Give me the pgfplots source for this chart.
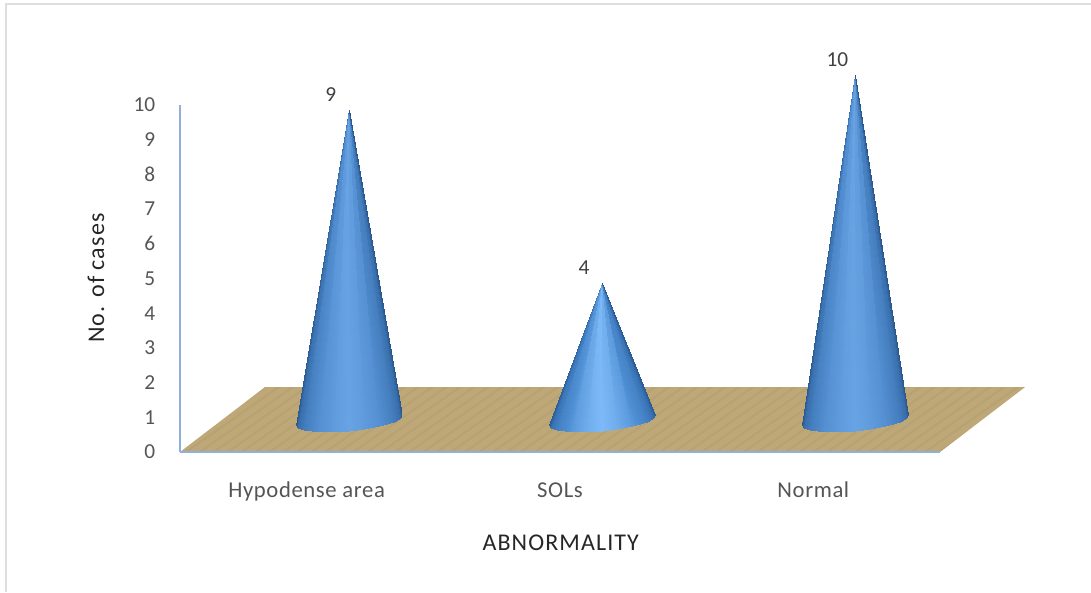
\documentclass[border=0pt]{standalone}
\usepackage{fontspec}
\setmainfont{Carlito}
\usepackage{pgfplots}
\usepackage{pgfplotstable}
\usetikzlibrary{patterns.meta}
\pgfplotsset{compat=1.18}

\definecolor{txt}{HTML}{555555}
\definecolor{axisblue}{HTML}{8FB0DA}
\definecolor{floorcol}{HTML}{BEA878}
\definecolor{floorstreak}{HTML}{AD9768}

% one cone: apex row, then front arc of the base (dx in categories, dy in y units)
\pgfplotstableread{
dx dy h c
0 0 1 0.00
0 0 1 0.30
0 0 1 0.50
0 0 1 0.75
0 0 1 0.90
0 0 1 1.00
0 0 1 0.90
0 0 1 0.75
0 0 1 0.50
0 0 1 0.30
0 0 1 0.00
-0.2092 0.778 0 0.00
-0.2013 0.697 0 0.30
-0.1777 0.634 0 0.50
-0.1184 0.579 0 0.75
-0.0592 0.579 0 0.90
0.0000 0.605 0 1.00
0.0592 0.660 0 0.90
0.1184 0.741 0 0.75
0.1777 0.876 0 0.50
0.2013 0.974 0 0.30
0.2092 1.066 0 0.00
}\conetable

\begin{document}
\begin{tikzpicture}[x=0.75pt,y=0.75pt]
\useasboundingbox (-180,-140) rectangle (911,452);
\draw[color=black!13,line width=1.9pt] (-174,-140) -- (-174,448) -- (911,448);
\begin{axis}[
    at={(0,0)},anchor=south west,
    scale only axis,
    width=570pt,
    height=260.25pt,
    xmin=-0.5,xmax=2.5,
    ymin=0,ymax=10,
    clip=false,
    axis on top,
    axis lines=left,
    axis line style={-,draw=axisblue,line width=2pt},
    xtick={0,1,2},
    xticklabels={Hypodense area,SOLs,Normal},
    ytick={0,1,...,10},
    major tick length=0pt,
    /pgf/number format/assume math mode=true,
    y tick label style={font=\fontsize{16}{18}\selectfont,text=txt,anchor=east,xshift=-15pt},
    x tick label style={font=\fontsize{17}{18}\selectfont\addfontfeature{LetterSpace=2.7},text=txt,anchor=base,yshift=-34pt},
    xlabel={ABNORMALITY},
    ylabel={No. of cases},
    label style={font=\fontsize{18}{20}\selectfont\addfontfeature{LetterSpace=4.6},text=black!85},
    xlabel style={at={(axis description cs:0.501,-0.262)},anchor=center},
    ylabel style={at={(axis description cs:-0.1105,0.501)},anchor=center,rotate=0},
    colormap={conemid}{rgb255=(42,88,140) rgb255=(58,112,174) rgb255=(78,138,204) rgb255=(104,164,228)},
    colormap={conelight}{rgb255=(42,90,146) rgb255=(58,116,182) rgb255=(78,142,210) rgb255=(126,186,248)},
    point meta min=0,point meta max=1,
]
% floor
\addplot[fill=floorcol,draw=none] coordinates {(-0.5,0) (2.5,0) (2.836,1.873) (-0.164,1.873)} -- cycle;
\addplot[draw=none,pattern={Lines[angle=35,distance=6pt,line width=1.6pt]},pattern color=floorstreak,opacity=0.3]
  coordinates {(-0.5,0) (2.5,0) (2.836,1.873) (-0.164,1.873)} -- cycle;
% cones
\addplot[surf,shader=interp,colormap name=conemid,mesh/rows=2,point meta=\thisrow{c}]
  table[x expr=\thisrow{dx}+0.166,y expr=\thisrow{dy}+\thisrow{h}*9.865] {\conetable};
\addplot[surf,shader=interp,colormap name=conelight,mesh/rows=2,point meta=\thisrow{c}]
  table[x expr=\thisrow{dx}+1.166,y expr=\thisrow{dy}+\thisrow{h}*4.865] {\conetable};
\addplot[surf,shader=interp,colormap name=conemid,mesh/rows=2,point meta=\thisrow{c}]
  table[x expr=\thisrow{dx}+2.166,y expr=\thisrow{dy}+\thisrow{h}*10.865] {\conetable};
% value labels
\addplot[draw=none,mark=none,nodes near coords,point meta=y,
    every node near coord/.append style={font=\fontsize{16}{18}\selectfont,text=black!75,anchor=center,xshift=18pt,yshift=34pt}]
  coordinates {(0,9) (1,4) (2,10)};
\end{axis}
\end{tikzpicture}
\end{document}
